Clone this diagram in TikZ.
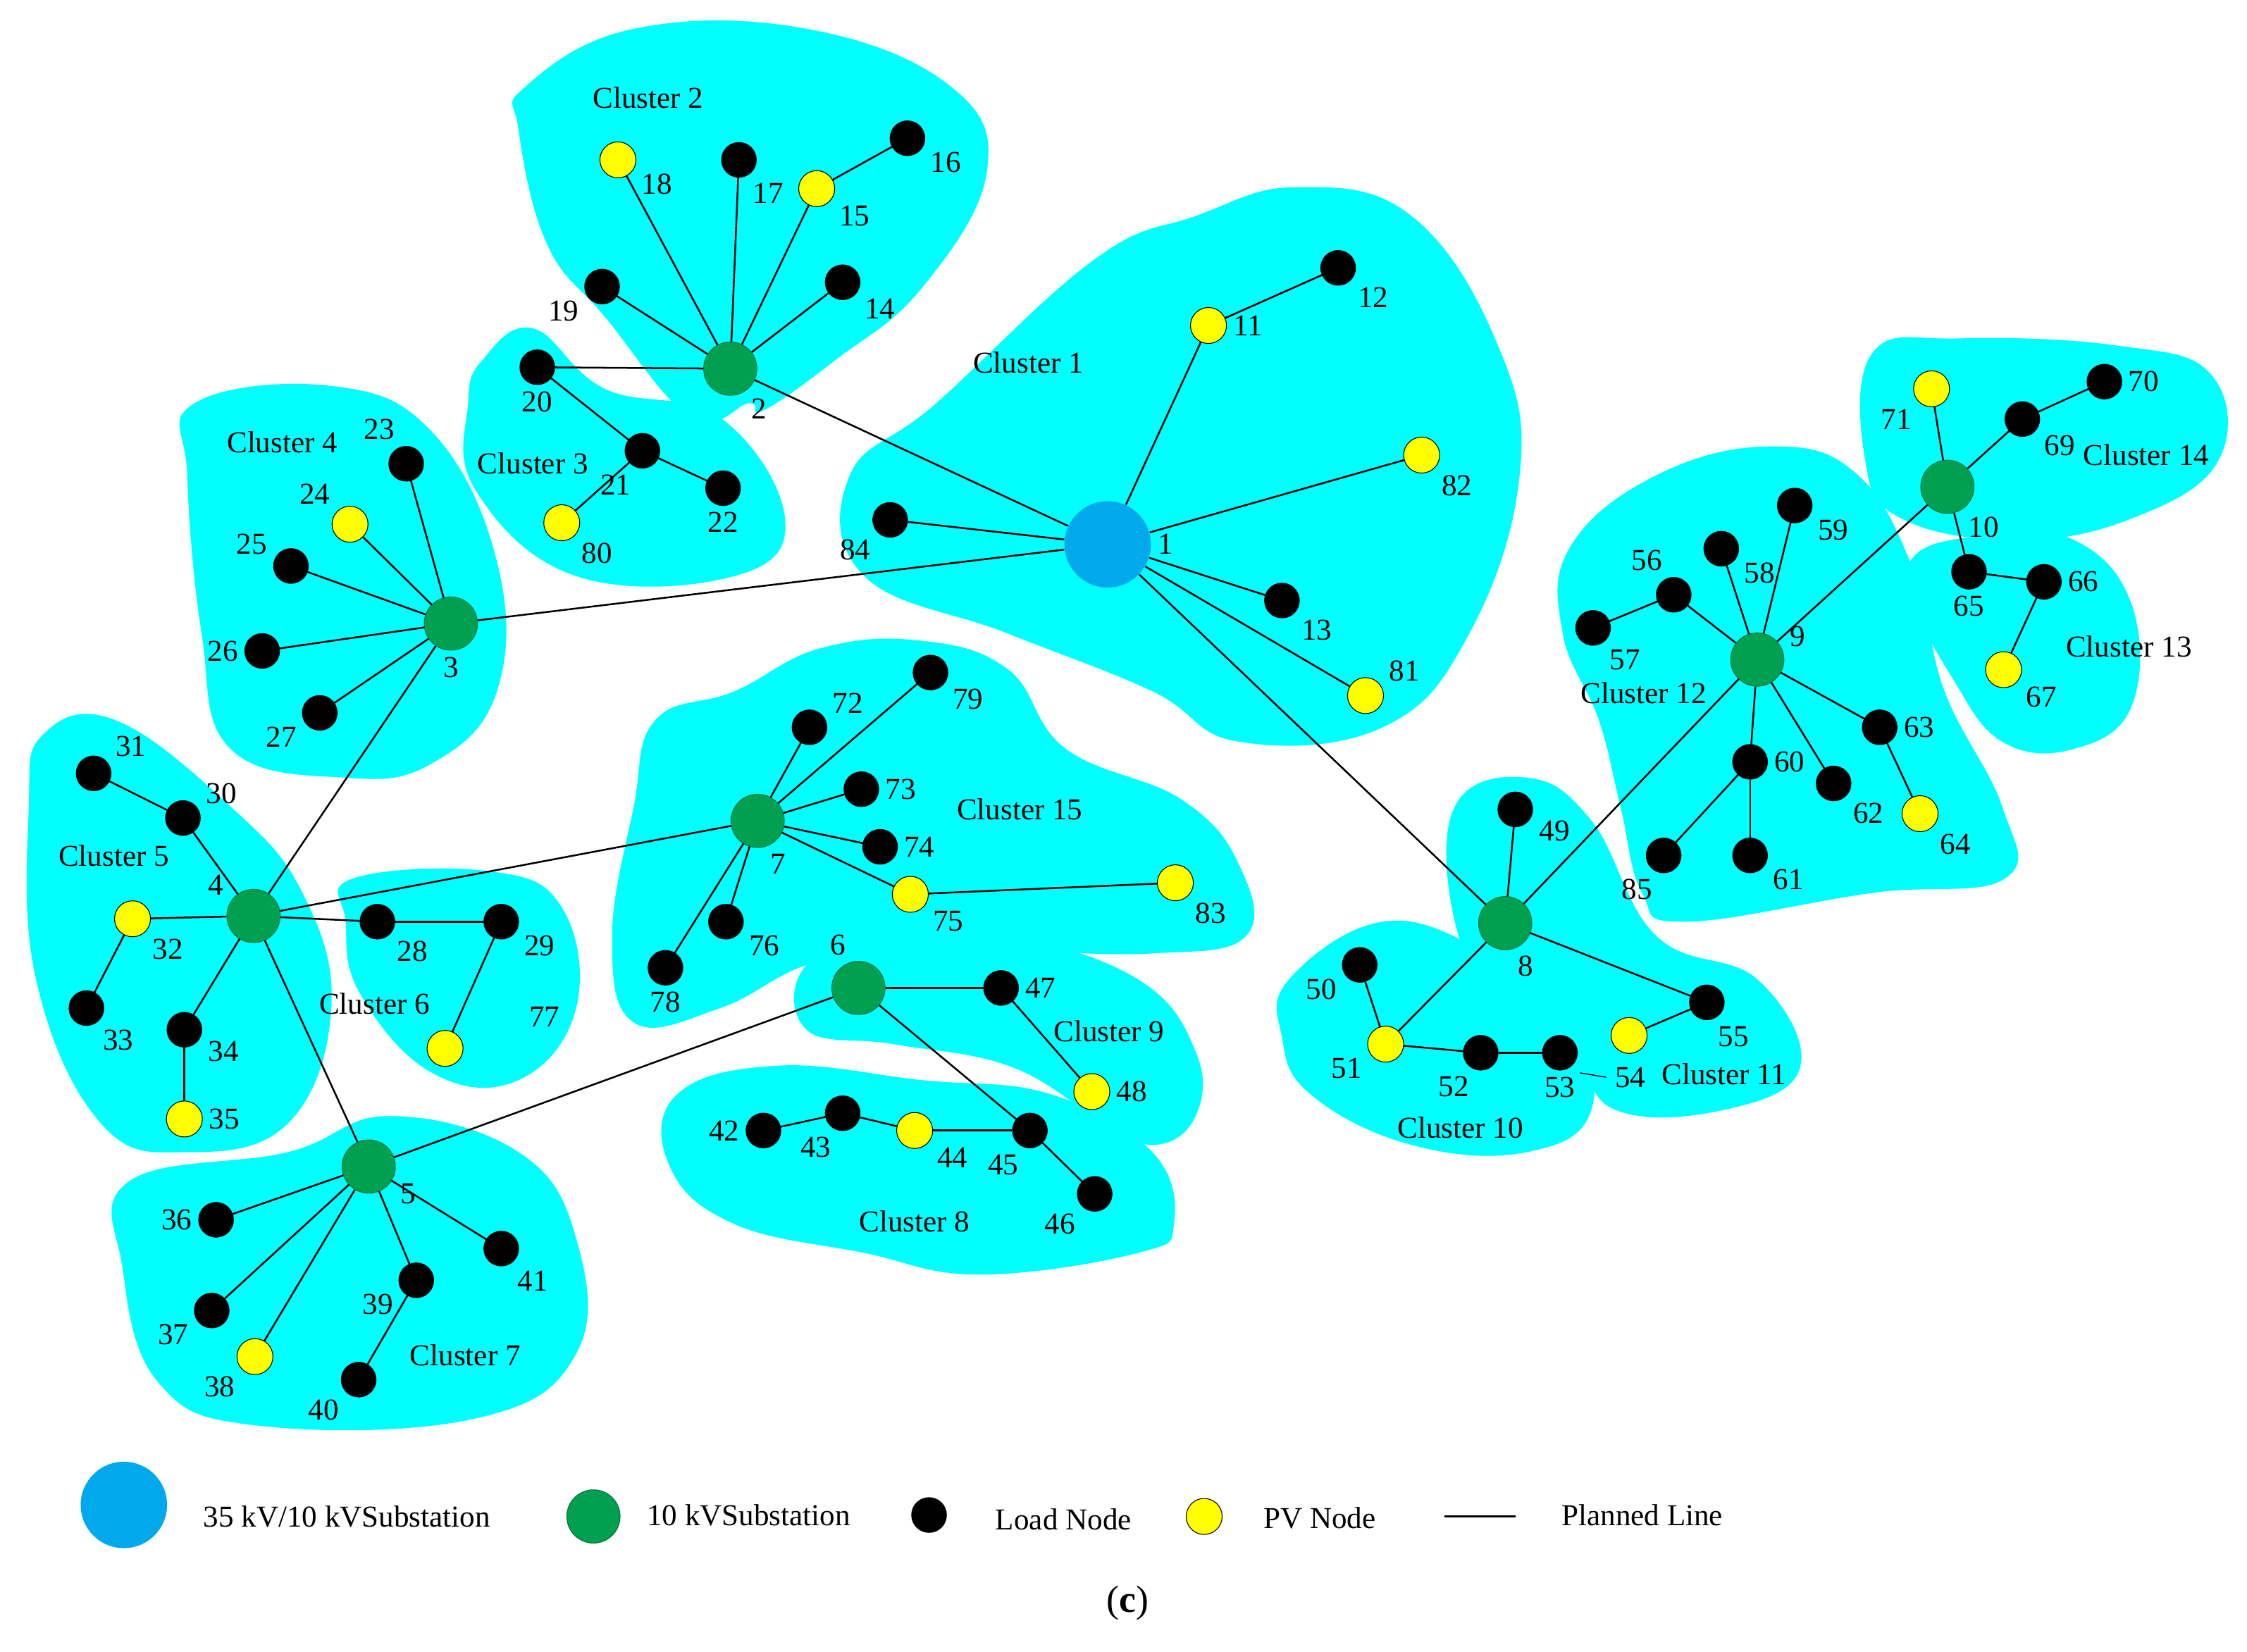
\documentclass[tikz,border=0pt]{standalone}
\usepackage{fontspec}
\setmainfont{Liberation Serif}
\definecolor{blob}{RGB}{0,255,255}
\definecolor{hvc}{RGB}{0,168,236}
\definecolor{subc}{RGB}{0,160,80}
\definecolor{pvc}{RGB}{255,255,0}
\begin{document}
\begin{tikzpicture}[x=0.02cm,y=-0.02cm,
 ld/.style={circle,fill=black,draw=black,inner sep=0,minimum size=0.48cm},
 pv/.style={circle,fill=pvc,draw=black,line width=0.3pt,inner sep=0,minimum size=0.5cm},
 sub/.style={circle,fill=subc,draw=subc!70!black,line width=0.3pt,inner sep=0,minimum size=0.74cm},
 hv/.style={circle,fill=hvc,draw=none,inner sep=0,minimum size=1.2cm},
 lb/.style={font=\fontsize{12}{14}\selectfont,label distance=-1pt},
 ct/.style={font=\fontsize{12}{14}\selectfont},
 bl/.style={fill=blob,draw=none},
 ln/.style={line width=0.7pt}]
\useasboundingbox (0,0) rectangle (1560,1147);
\fill[white] (0,0) rectangle (1560,1147);
\newcommand\nd[5]{\node[#4,label={[lb]#5:#1}] (n#1) at (#2,#3) {};}
% blobs
\fill[bl] plot[smooth cycle,tension=0.7] coordinates{(590,330)(650,280)(760,180)(830,150)(900,130)(980,150)(1040,240)(1055,330)(1020,440)(960,505)(860,515)(800,480)(700,440)(600,400)};
\fill[bl] plot[smooth cycle,tension=0.7] coordinates{(365,60)(440,20)(560,20)(660,60)(685,120)(640,200)(580,250)(530,285)(520,280)(480,290)(420,220)(380,170)(360,90)};
\fill[bl] plot[smooth cycle,tension=0.7] coordinates{(335,250)(370,228)(420,270)(500,290)(545,360)(510,400)(400,400)(330,340)(325,280)};
\fill[bl] plot[smooth cycle,tension=0.7] coordinates{(135,280)(230,268)(300,300)(345,390)(345,480)(300,530)(240,540)(160,520)(140,440)(130,330)};
\fill[bl] plot[smooth cycle,tension=0.7] coordinates{(30,510)(80,500)(160,560)(210,620)(230,700)(200,780)(130,800)(70,780)(25,680)(20,560)};
\fill[bl] plot[smooth cycle,tension=0.7] coordinates{(245,610)(340,605)(390,630)(400,700)(360,750)(300,745)(250,690)(240,640)};
\fill[bl] plot[smooth cycle,tension=0.7] coordinates{(90,820)(200,800)(270,775)(360,800)(400,860)(400,940)(330,985)(180,990)(110,960)(85,880)};
\fill[bl] plot[smooth cycle,tension=0.7] coordinates{(455,500)(510,480)(570,450)(640,445)(700,465)(740,520)(820,555)(860,600)(865,650)(800,662)(700,660)(620,660)(560,670)(500,700)(440,710)(425,650)(440,560)};
\fill[bl] plot[smooth cycle,tension=0.7] coordinates{(560,670)(620,650)(700,650)(790,680)(830,730)(830,775)(800,795)(760,775)(700,740)(620,725)(560,715)};
\fill[bl] plot[smooth cycle,tension=0.7] coordinates{(470,760)(540,740)(640,750)(730,760)(800,800)(815,850)(790,870)(680,885)(600,870)(510,850)(465,810)};
\fill[bl] plot[smooth cycle,tension=0.7] coordinates{(895,680)(960,640)(1030,660)(1090,700)(1105,770)(1060,800)(980,795)(910,760)(890,720)};
\fill[bl] plot[smooth cycle,tension=0.7] coordinates{(1010,560)(1060,540)(1105,570)(1150,650)(1220,680)(1250,740)(1200,770)(1120,770)(1090,720)(1040,690)(1010,640)};
\fill[bl] plot[smooth cycle,tension=0.7] coordinates{(1090,380)(1150,330)(1230,310)(1290,330)(1330,400)(1350,480)(1390,560)(1392,610)(1300,620)(1170,640)(1140,620)(1125,560)(1110,500)(1085,440)};
\fill[bl] plot[smooth cycle,tension=0.7] coordinates{(1300,245)(1360,235)(1470,240)(1535,260)(1540,320)(1480,360)(1400,375)(1320,360)(1295,320)};
\fill[bl] plot[smooth cycle,tension=0.7] coordinates{(1330,385)(1380,372)(1440,375)(1480,420)(1480,490)(1440,520)(1390,515)(1355,470)(1330,420)};
% cluster labels
\node[ct] at (714,252) {Cluster 1}; \node[ct] at (450,68) {Cluster 2};
\node[ct] at (370,322) {Cluster 3}; \node[ct] at (196,307) {Cluster 4};
\node[ct] at (79,594) {Cluster 5}; \node[ct] at (260,697) {Cluster 6};
\node[ct] at (323,941) {Cluster 7}; \node[ct] at (635,848) {Cluster 8};
\node[ct] at (770,716) {Cluster 9}; \node[ct] at (1014,783) {Cluster 10};
\node[ct] at (1197,746) {Cluster 11}; \node[ct] at (1141,481) {Cluster 12};
\node[ct] at (1478,449) {Cluster 13}; \node[ct] at (1490,316) {Cluster 14};
\node[ct] at (708,562) {Cluster 15};
% nodes
\nd{1}{769}{378}{hv}{0}
\nd{2}{507}{256}{sub}{-60} \nd{3}{313}{433}{sub}{-90} \nd{4}{176}{636}{sub}{150}
\nd{5}{256}{810}{sub}{-20} \nd{6}{596}{686}{sub}{100} \nd{7}{526}{570}{sub}{-80}
\nd{8}{1045}{641}{sub}{-80} \nd{9}{1220}{458}{sub}{10} \nd{10}{1352}{338}{sub}{-60}
\nd{11}{839}{226}{pv}{0} \nd{12}{929}{186}{ld}{-45} \nd{82}{987}{316}{pv}{-45}
\nd{84}{618}{361}{ld}{-135} \nd{13}{890}{417}{ld}{-45} \nd{81}{948}{483}{pv}{20}
\nd{18}{429}{111}{pv}{-20} \nd{17}{513}{111}{ld}{-70} \nd{15}{567}{131}{pv}{-30}
\nd{16}{630}{96}{ld}{-20} \nd{19}{418}{199}{ld}{-160} \nd{14}{585}{196}{ld}{-30}
\nd{20}{373}{255}{ld}{-90} \nd{21}{446}{313}{ld}{-100} \nd{22}{502}{339}{ld}{-90} \nd{80}{390}{363}{pv}{-45}
\nd{23}{282}{322}{ld}{100} \nd{24}{243}{364}{pv}{135} \nd{25}{202}{393}{ld}{170}
\nd{26}{182}{452}{ld}{180} \nd{27}{222}{495}{ld}{-160}
\nd{31}{65}{537}{ld}{30} \nd{30}{127}{568}{ld}{20} \nd{32}{92}{638}{pv}{-45}
\nd{33}{60}{700}{ld}{-60} \nd{34}{128}{715}{ld}{-10} \nd{35}{128}{777}{pv}{0}
\nd{28}{262}{640}{ld}{-45} \nd{29}{348}{640}{ld}{-20}
\node[pv] (n77) at (309,728) {}; \node[lb] at (378,706) {77};
\nd{36}{150}{847}{ld}{180} \nd{37}{147}{910}{ld}{-160} \nd{38}{177}{942}{pv}{-135}
\nd{39}{289}{889}{ld}{-160} \nd{40}{249}{958}{ld}{-135} \nd{41}{348}{867}{ld}{-60}
\nd{72}{562}{505}{ld}{20} \nd{79}{646}{467}{ld}{-30} \nd{73}{598}{548}{ld}{0}
\nd{74}{611}{588}{ld}{0} \nd{75}{632}{621}{pv}{-30} \nd{83}{816}{613}{pv}{-45}
\nd{76}{504}{640}{ld}{-20} \nd{78}{462}{672}{ld}{-90}
\nd{47}{695}{686}{ld}{0} \nd{48}{758}{758}{pv}{0} \nd{45}{715}{785}{ld}{-100}
\nd{46}{760}{829}{ld}{-135} \nd{44}{635}{785}{pv}{-30} \nd{43}{585}{773}{ld}{-100} \nd{42}{530}{785}{ld}{180}
\nd{49}{1052}{562}{ld}{-10} \nd{55}{1185}{696}{ld}{-80} \node[pv] (n54) at (1131,719) {};
\nd{50}{944}{670}{ld}{-160} \nd{51}{962}{725}{pv}{-160} \nd{52}{1028}{731}{ld}{-100} \nd{53}{1083}{731}{ld}{-90}
\node[lb,anchor=west] (l54) at (1115,748) {54};
\coordinate (c54) at (1097,745);
\draw (c54) -- (l54.west);
\nd{56}{1162}{413}{ld}{100} \nd{57}{1106}{436}{ld}{-60} \nd{58}{1195}{381}{ld}{-20}
\nd{59}{1246}{351}{ld}{-20} \nd{60}{1215}{529}{ld}{0} \nd{61}{1215}{594}{ld}{-20}
\nd{62}{1273}{544}{ld}{-45} \nd{63}{1305}{505}{ld}{0} \nd{64}{1333}{565}{pv}{-45} \nd{85}{1155}{594}{ld}{-100}
\nd{71}{1341}{270}{pv}{-135} \nd{69}{1404}{291}{ld}{-30} \nd{70}{1461}{265}{ld}{0}
\nd{65}{1367}{397}{ld}{-90} \nd{66}{1419}{404}{ld}{0} \nd{67}{1391}{465}{pv}{-30}
% edges
\foreach \a/\b in {1/2,1/3,1/8,1/11,11/12,1/82,1/84,1/13,1/81,2/18,2/17,2/15,15/16,2/19,2/14,2/20,20/21,21/22,21/80,3/23,3/24,3/25,3/26,3/27,3/4,4/30,30/31,4/32,32/33,4/34,34/35,4/28,28/29,29/77,4/7,4/5,5/36,5/37,5/38,5/39,39/40,5/41,5/6,7/72,7/79,7/73,7/74,7/75,75/83,7/76,7/78,6/47,47/48,6/45,45/46,45/44,44/43,43/42,8/49,8/55,55/54,8/51,51/50,51/52,52/53,8/9,9/58,9/59,9/56,56/57,9/60,60/85,60/61,9/62,9/63,63/64,9/10,10/71,10/69,69/70,10/65,65/66,66/67}
 \draw[ln] (n\a) -- (n\b);
% legend
\node[hv] (L1) at (86,1045) {}; \node[ct,anchor=west] at (135,1053) {35 kV/10 kVSubstation};
\node[sub] (L2) at (412,1053) {}; \node[ct,anchor=west] at (443,1052) {10 kVSubstation};
\node[ld] (L3) at (645,1052) {}; \node[ct,anchor=west] at (685,1055) {Load Node};
\node[pv] (L4) at (836,1053) {}; \node[ct,anchor=west] at (871,1054) {PV Node};
\coordinate (La) at (1003,1053); \coordinate (Lb) at (1052,1053);
\draw[ln] (La) -- (Lb); \node[ct,anchor=west] at (1078,1052) {Planned Line};
\node[font=\fontsize{15}{17}\selectfont] at (783,1113) {(\textbf{c})};
\end{tikzpicture}
\end{document}
